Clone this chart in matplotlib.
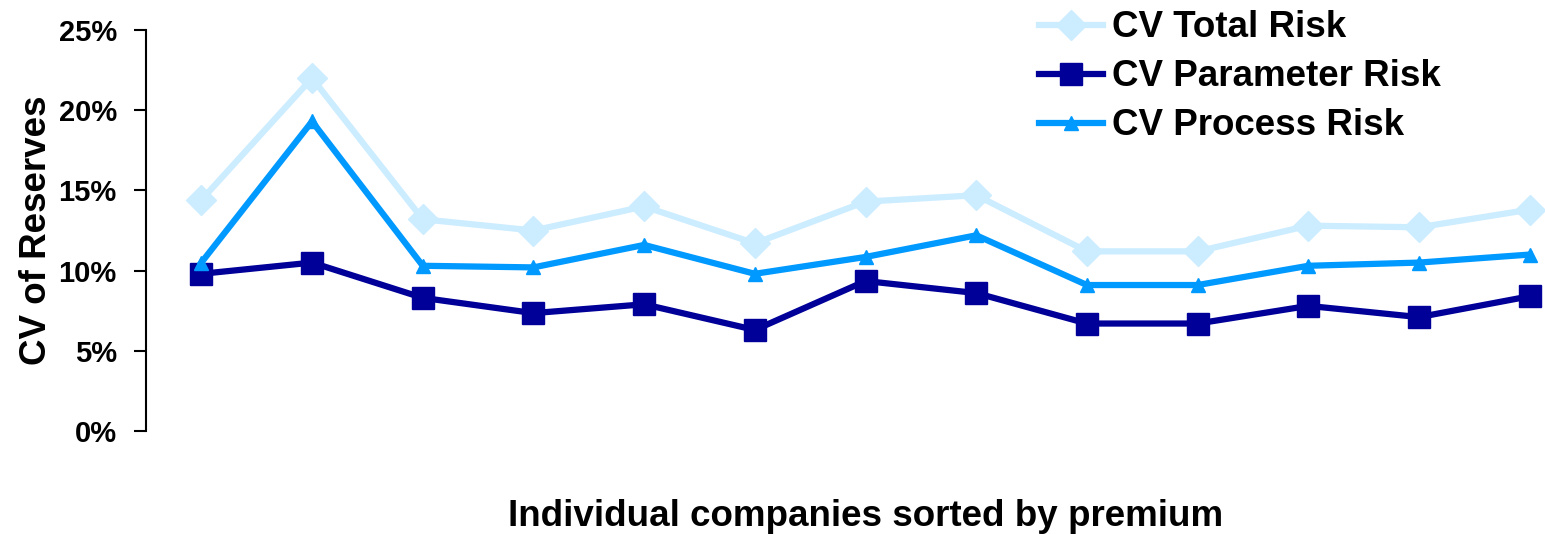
import numpy as np
import matplotlib
matplotlib.use("Agg")
from matplotlib import pyplot as plt
from matplotlib.ticker import PercentFormatter

plt.rcParams['font.family'] = ['Liberation Sans', 'DejaVu Sans']
plt.rcParams['font.weight'] = 'bold'

companies = np.arange(13)
cv_total = [14.4, 22.0, 13.2, 12.5, 14.0, 11.7, 14.3, 14.7, 11.2, 11.2, 12.8, 12.7, 13.8]
cv_parameter = [9.8, 10.5, 8.3, 7.35, 7.9, 6.3, 9.35, 8.6, 6.7, 6.7, 7.8, 7.1, 8.4]
cv_process = [10.5, 19.3, 10.3, 10.2, 11.6, 9.8, 10.85, 12.2, 9.1, 9.1, 10.3, 10.5, 11.0]

fig = plt.figure(figsize=(15.45, 5.34), dpi=100)
W, H = 1545, 534
ax = fig.add_axes([146 / W, 1 - 431 / H, (W - 146) / W, (431 - 30) / H])

ax.plot(companies, cv_total, color='#CCECFF', lw=4.5, marker='D', ms=15,
        label='CV Total Risk')
ax.plot(companies, cv_parameter, color='#000099', lw=4.5, marker='s', ms=16,
        label='CV Parameter Risk')
ax.plot(companies, cv_process, color='#0099FF', lw=4.5, marker='^', ms=10,
        label='CV Process Risk')

ax.set_ylim(0, 25)
ax.set_yticks(np.arange(0, 26, 5))
ax.yaxis.set_major_formatter(PercentFormatter(decimals=0))
ax.set_xlim(-0.5, (W - 146) / 110.7 - 0.5)
ax.set_xticks([])

for side in ('top', 'right', 'bottom'):
    ax.spines[side].set_visible(False)
ax.spines['left'].set_linewidth(1.5)
ax.tick_params(axis='y', length=9, width=1.5, labelsize=21, pad=12)

ax.set_ylabel('CV of Reserves', fontsize=26.5, fontweight='bold', labelpad=3)
fig.text(866 / W, 1 - 516 / H, 'Individual companies sorted by premium',
         ha='center', va='center', fontsize=26.5, fontweight='bold')

fig.legend(loc='upper left', bbox_to_anchor=(1024 / W, 1.008), frameon=False,
           fontsize=26.5, handlelength=1.75, handletextpad=0.25, labelspacing=0.38,
           borderaxespad=0)

fig.savefig('out.png', dpi=100)
